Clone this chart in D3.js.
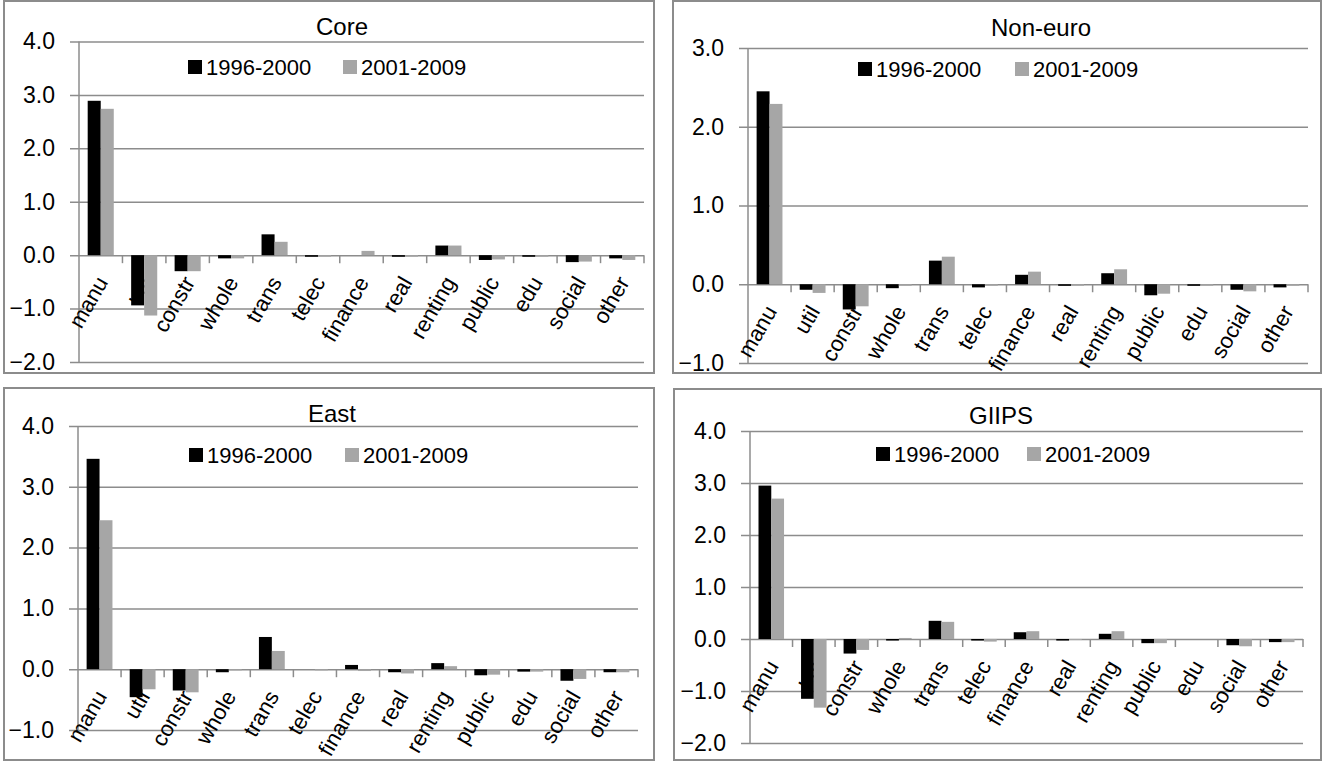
<!DOCTYPE html>
<html>
<head>
<meta charset="utf-8">
<script src="https://cdn.jsdelivr.net/npm/d3@7"></script>
<style>
  body { margin: 0; background: #fff; }
  text { font-family: "Liberation Sans", Arial, sans-serif; fill: #000; }
</style>
</head>
<body>
<div id="chart"></div>
<script>

var categories = ["manu", "util", "constr", "whole", "trans", "telec", "finance", "real", "renting", "public", "edu", "social", "other"];
var seriesNames = ["1996-2000", "2001-2009"];

var core1996 = [2.89, -0.94, -0.30, -0.06, 0.39, -0.03, 0.00, -0.03, 0.18, -0.09, -0.03, -0.13, -0.06];
var core2001 = [2.74, -1.13, -0.30, -0.06, 0.25, -0.03, 0.08, -0.03, 0.18, -0.08, -0.03, -0.12, -0.09];

var noneuro1996 = [2.45, -0.07, -0.32, -0.05, 0.30, -0.04, 0.12, -0.02, 0.14, -0.14, -0.02, -0.07, -0.04];
var noneuro2001 = [2.29, -0.11, -0.28, -0.02, 0.35, -0.02, 0.16, -0.02, 0.19, -0.12, -0.02, -0.09, -0.02];

var east1996 = [3.46, -0.46, -0.35, -0.05, 0.53, 0.00, 0.07, -0.05, 0.10, -0.10, -0.04, -0.19, -0.05];
var east2001 = [2.45, -0.33, -0.38, -0.02, 0.30, -0.02, -0.03, -0.07, 0.05, -0.09, -0.04, -0.16, -0.05];

var giips1996 = [2.95, -1.15, -0.28, -0.03, 0.35, -0.03, 0.13, -0.03, 0.10, -0.08, 0.00, -0.12, -0.06];
var giips2001 = [2.70, -1.32, -0.21, 0.02, 0.33, -0.05, 0.15, -0.02, 0.15, -0.08, 0.00, -0.14, -0.06];

var ticksCore = [-2, -1, 0, 1, 2, 3, 4];
var ticksNoneuro = [-1, 0, 1, 2, 3];
var ticksEast = [-1, 0, 1, 2, 3, 4];
var ticksGiips = [-2, -1, 0, 1, 2, 3, 4];

var colors = ["#000000", "#a6a6a6"];
var gridColor = "#8c8c8c";

// layout of the four boxes (frame, plot area, title, legend)
var panels = [
  {title: "Core", a: core1996, b: core2001, ticks: ticksCore,
   frame: [4, 1, 654, 373], plot: [79, 644, 41.5, 362], titleX: 342, titleY: 26,
   leg: [188, 343, 67]},
  {title: "Non-euro", a: noneuro1996, b: noneuro2001, ticks: ticksNoneuro,
   frame: [673, 1, 1321, 373], plot: [748, 1308, 48, 363], titleX: 1041, titleY: 27,
   leg: [858, 1015, 69]},
  {title: "East", a: east1996, b: east2001, ticks: ticksEast,
   frame: [4, 388, 654, 760], plot: [78, 638, 426, 730], titleX: 332, titleY: 413,
   leg: [189, 345, 455]},
  {title: "GIIPS", a: giips1996, b: giips2001, ticks: ticksGiips,
   frame: [674, 389, 1321, 760], plot: [750, 1303, 431, 743], titleX: 1001, titleY: 415,
   leg: [876, 1027, 454]}
];

var width = 1325, height = 763;

var svg = d3.select("#chart")
  .append("svg")
  .attr("width", width)
  .attr("height", height);

panels.forEach(function(p) {
  var g = svg.append("g");

  g.append("rect")
    .attr("x", p.frame[0])
    .attr("y", p.frame[1])
    .attr("width", p.frame[2] - p.frame[0])
    .attr("height", p.frame[3] - p.frame[1])
    .attr("fill", "#fff")
    .attr("stroke", gridColor)
    .attr("stroke-width", 2);

  var yScale = d3.scaleLinear()
    .domain([d3.min(p.ticks), d3.max(p.ticks)])
    .range([p.plot[3], p.plot[2]]);

  var xScale = d3.scaleBand()
    .domain(categories)
    .range([p.plot[0], p.plot[1]]);

  var inner = d3.scaleBand()
    .domain([0, 1])
    .range([0, xScale.bandwidth() * 0.6]);

  // gridlines + y labels
  var yAxis = g.append("g")
    .attr("transform", "translate(" + p.plot[0] + ",0)")
    .call(d3.axisLeft(yScale)
      .tickValues(p.ticks)
      .tickSize(-(p.plot[1] - p.plot[0]))
      .tickFormat(d3.format(".1f"))
      .tickPadding(24));
  yAxis.select(".domain").remove();
  yAxis.selectAll(".tick line")
    .attr("x1", -9)
    .attr("stroke", gridColor)
    .attr("stroke-width", 1.5);
  yAxis.selectAll(".tick text")
    .attr("font-size", 23)
    .style("font-family", "'Liberation Sans', Arial, sans-serif")
    .attr("fill", "#000");

  g.append("line")
    .attr("x1", p.plot[0]).attr("x2", p.plot[0])
    .attr("y1", p.plot[2]).attr("y2", p.plot[3])
    .attr("stroke", gridColor)
    .attr("stroke-width", 1.5);

  // category ticks along the zero line
  var y0 = yScale(0);
  g.selectAll(".cattick")
    .data(categories.slice(1).concat(["end"]))
    .enter()
    .append("line")
    .attr("x1", function(d) { return d === "end" ? p.plot[1] : xScale(d); })
    .attr("x2", function(d) { return d === "end" ? p.plot[1] : xScale(d); })
    .attr("y1", y0)
    .attr("y2", y0 + 8)
    .attr("stroke", gridColor)
    .attr("stroke-width", 1.5);

  // category labels (drawn under the bars)
  g.selectAll(".catlabel")
    .data(categories)
    .enter()
    .append("text")
    .attr("text-anchor", "end")
    .attr("font-size", 22)
    .attr("transform", function(d) {
      var x = xScale(d) + xScale.bandwidth() / 2 + 8;
      return "translate(" + x + "," + (y0 + 27) + ") rotate(-60)";
    })
    .text(function(d) { return d; });

  // bars
  [p.a, p.b].forEach(function(vals, s) {
    g.selectAll(".bar" + s)
      .data(vals)
      .enter()
      .append("rect")
      .attr("x", function(d, i) { return xScale(categories[i]) + xScale.bandwidth() * 0.2 + inner(s); })
      .attr("width", inner.bandwidth())
      .attr("y", function(d) { return yScale(Math.max(0, d)); })
      .attr("height", function(d) { return Math.abs(yScale(d) - yScale(0)); })
      .attr("fill", colors[s]);
  });

  // title
  g.append("text")
    .attr("x", p.titleX)
    .attr("y", p.titleY)
    .attr("text-anchor", "middle")
    .attr("dominant-baseline", "central")
    .attr("font-size", 24)
    .text(p.title);

  // legend
  seriesNames.forEach(function(name, s) {
    var lx = p.leg[s];
    g.append("rect")
      .attr("x", lx)
      .attr("y", p.leg[2] - 7)
      .attr("width", 14)
      .attr("height", 14)
      .attr("fill", colors[s]);
    g.append("text")
      .attr("x", lx + 18)
      .attr("y", p.leg[2])
      .attr("dominant-baseline", "central")
      .attr("font-size", 22)
      .text(name);
  });
});

</script>
</body>
</html>
